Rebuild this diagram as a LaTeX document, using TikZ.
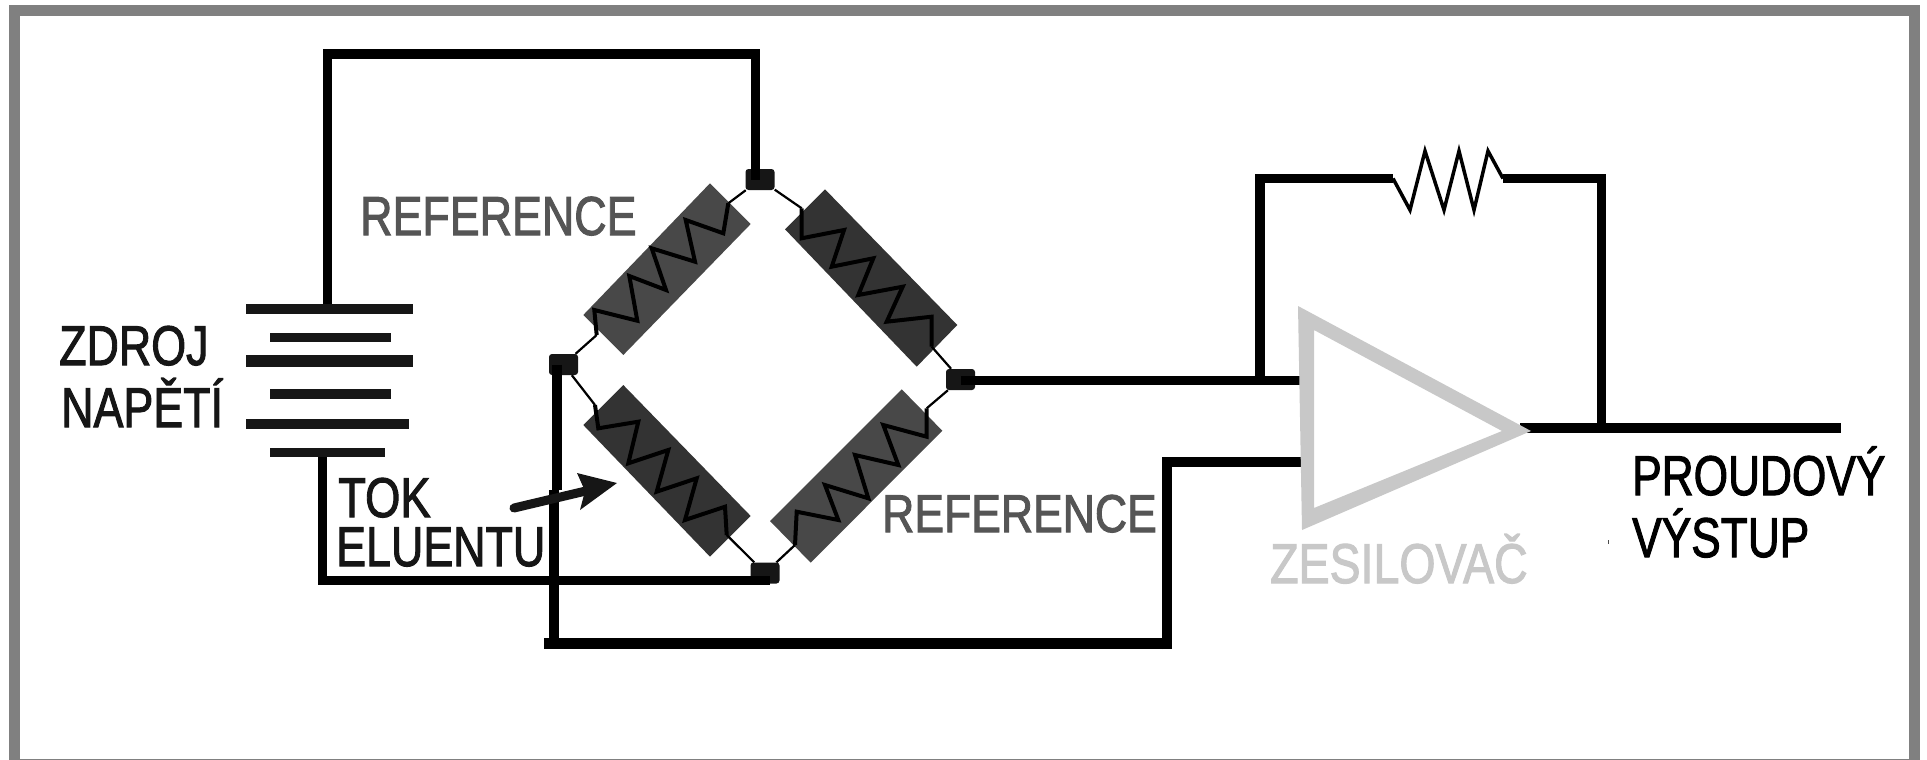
\documentclass[tikz,border=0pt]{standalone}
\usepackage{graphicx}
\usepackage{fontspec}
\setmainfont{Liberation Sans}[FakeBold=2]
\definecolor{ink}{HTML}{161616}
\definecolor{frameg}{HTML}{808080}
\definecolor{lightr}{HTML}{484848}
\definecolor{darkr}{HTML}{333333}
\definecolor{labg}{HTML}{555555}
\definecolor{ampg}{HTML}{C8C8C8}
\tikzset{
  wire/.style={line width=9.5pt,black,line cap=butt,line join=miter},
  plate/.style={fill=ink,draw=none},
  lead/.style={line width=2.2pt,black},
  zig/.style={line width=4pt,black,line join=miter},
  junction/.style={fill=ink,draw=none,rounded corners=3pt,minimum width=29pt,minimum height=21pt,inner sep=0pt},
  txt/.style={anchor=base west,inner sep=0pt,font=\fontsize{56}{60}\selectfont},
}
\begin{document}
\begin{tikzpicture}[x=1pt,y=-1pt]
\useasboundingbox (0,0) rectangle (1927,760);
\fill[white] (0,0) rectangle (1927,760);
% frame
\draw[frameg,line width=11pt] (14.5,10.5) -- (1914.5,10.5) -- (1914.5,764) -- (14.5,764) -- cycle;
% resistor bodies
\fill[lightr] (710,183.3) -- (750.7,224) -- (623.3,355) -- (583.3,315) -- cycle;
\fill[darkr] (825,189.3) -- (957.3,325) -- (916.7,366.7) -- (785,229.3) -- cycle;
\fill[darkr] (623.3,385) -- (750.7,516) -- (710,556.7) -- (583.3,425) -- cycle;
\fill[lightr] (901.7,389.3) -- (942.3,430.7) -- (810.7,562.7) -- (770,521) -- cycle;
% junctions
\node[junction] (ntop) at (760,179.5) {};
\node[junction] (nleft) at (563.5,364.5) {};
\node[junction] (nright) at (960.5,379.5) {};
\node[junction] (nbot) at (765,573) {};
% bridge leads
\coordinate (r1a) at (728.3,203.3); \coordinate (r1b) at (596.7,335);
\coordinate (r2a) at (801.7,208.3); \coordinate (r2b) at (931.7,346.7);
\coordinate (r3a) at (595,405); \coordinate (r3b) at (726.7,535);
\coordinate (r4a) at (926.7,408.3); \coordinate (r4b) at (795,545);
\draw[lead] (ntop) -- (r1a);
\draw[lead] (nleft) -- (r1b);
\draw[lead] (ntop) -- (r2a);
\draw[lead] (nright) -- (r2b);
\draw[lead] (nleft) -- (r3a);
\draw[lead] (nbot) -- (r3b);
\draw[lead] (nright) -- (r4a);
\draw[lead] (nbot) -- (r4b);
% zigzags
\draw[zig] (r1a) -- (723.3,233.3) -- (685.7,220) -- (695,261.7) -- (651.7,248.3) -- (666,290) -- (629.3,276) -- (637.3,320.7) -- (594.3,310) -- (r1b);
\draw[zig] (r2a) -- (801.7,238.3) -- (844,230) -- (831.7,266.7) -- (873.3,258.3) -- (858.3,295) -- (902.7,286.7) -- (886.7,321.7) -- (931.7,316.7) -- (r2b);
\draw[zig] (r3a) -- (598.3,428.3) -- (638.3,421.7) -- (628.3,463.3) -- (668.3,450) -- (656.7,491.7) -- (696.7,478.3) -- (685,520) -- (725,506.7) -- (r3b);
\draw[zig] (r4a) -- (926.7,436.7) -- (883.3,425) -- (898.3,465) -- (855,455) -- (868.3,498.3) -- (825,485) -- (838.3,520) -- (796.7,511.7) -- (r4b);
% battery
\fill[plate] (246,304) rectangle (413,314);
\fill[plate] (270,333) rectangle (391,342);
\fill[plate] (246,355) rectangle (413,367);
\fill[plate] (270,389) rectangle (391,399);
\fill[plate] (246,419) rectangle (409,429);
\fill[plate] (270,448) rectangle (385,457);
\coordinate (btop) at (327.5,304);
\coordinate (bbot) at (322.5,457);
% wires
\coordinate (tcorner) at (755.5,54);
\coordinate (bcorner) at (770,580.5);
\coordinate (crossu) at (557,490);
\coordinate (crossl) at (554,490);
\coordinate (lowl) at (544,643.5);
\coordinate (lowr) at (1167,643.5);
\coordinate (ip2) at (1303,462);
\coordinate (ip1) at (1303,380.5);
\coordinate (fbl) at (1260,380.5);
\coordinate (rs) at (1393,178.5);
\coordinate (re) at (1503,178.5);
\coordinate (fbr) at (1601.5,428);
\coordinate (out) at (1841,428);
\coordinate (ampo) at (1520,428);
\draw[wire] (btop) |- (tcorner) -- (tcorner |- ntop);
\draw[wire] (bbot) |- (bcorner);
\draw[wire] (crossu |- nleft) -- (crossu);
\draw[wire] (crossl) -- (crossl |- lowl);
\draw[wire,line width=11pt] (lowl) -- (lowr);
\draw[wire] (1167,649) -- (1167,462) -- (ip2);
\draw[wire] (ip1 -| nright) -- (ip1);
\draw[wire] (fbl) |- (rs);
\draw[wire] (re) -| (fbr);
\draw[wire] (ampo) -- (out);
% feedback resistor
\draw[line width=3.5pt,black,line join=miter] (rs) -- (1410,210) -- (1425,151) -- (1444,210) -- (1459,151) -- (1474,210) -- (1488,151) -- (re);
% amplifier
\fill[ampg,even odd rule] (1298,306) -- (1531,431) -- (1302,530) -- cycle
  (1314,330) -- (1502,431) -- (1314,508) -- cycle;
% flow arrow
\coordinate (atail) at (514,508);
\coordinate (aneck) at (590,490);
\draw[ink,line width=9pt,line cap=round] (atail) -- (aneck);
\fill[ink] (617,483) -- (577,473) -- (585,491) -- (580,510) -- cycle;
% speck
\fill[black!70] (1607.5,540) rectangle (1608.5,544);
% labels
\node[txt,text=labg] (ref1) at (360,235) {\scalebox{.80}[.98]{REFERENCE}};
\node[txt,text=labg] (ref2) at (882,532) {\scalebox{.795}[.95]{REFERENCE}};
\node[txt,text=ink] (zdroj) at (59,365) {\scalebox{.80}[1]{ZDROJ}};
\node[txt,text=ink] (nap) at (61,427) {\scalebox{.80}[1]{NAPĚTÍ}};
\node[txt,text=ink] (tok) at (338,517) {\scalebox{.81}[1]{TOK}};
\node[txt,text=ink] (elu) at (336,566) {\scalebox{.80}[1]{ELUENTU}};
\node[txt,text=black] (prou) at (1632,495) {\scalebox{.79}[1]{PROUDOVÝ}};
\node[txt,text=black] (vys) at (1632,557) {\scalebox{.79}[1]{VÝSTUP}};
\node[txt,text=ampg] (zes) at (1270,583) {\scalebox{.83}[1]{ZESILOVAČ}};
\end{tikzpicture}
\end{document}
